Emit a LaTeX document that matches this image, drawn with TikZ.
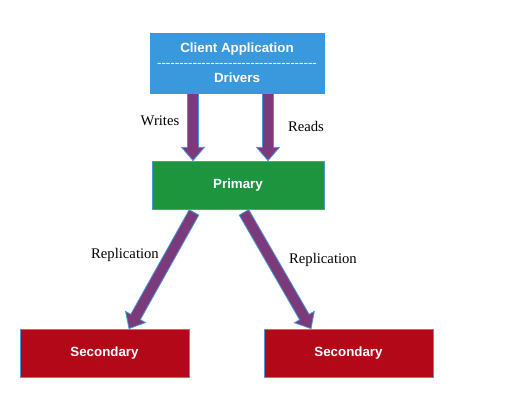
\documentclass[tikz,border=0pt]{standalone}
\usepackage{fontspec}
\setmainfont{Liberation Serif}
\newfontfamily\boxfont{Liberation Sans}
\usetikzlibrary{calc}

\definecolor{clientblue}{HTML}{3A99DC}
\definecolor{primgreen}{HTML}{1D953F}
\definecolor{secred}{HTML}{B30817}
\definecolor{edgeblue}{HTML}{4A96D8}
\definecolor{flowpurple}{HTML}{7B3A7A}

\tikzset{
  box/.style={draw=edgeblue, line width=0.6pt, text=white, font=\boxfont\bfseries\fontsize{10}{11.6}\selectfont, align=center},
  flow/.style={fill=flowpurple, draw=edgeblue, line width=0.6pt, line join=miter},
  lbl/.style={font=\fontsize{11}{13}\selectfont}
}

% block arrow from #1 to #2
\newcommand{\blockarrow}[2]{%
  \coordinate (hb) at ($(#2)!10pt!(#1)$);
  \filldraw[flow] ($(#1)!4.1pt!90:(#2)$) -- ($(hb)!4.1pt!90:(#2)$) -- ($(hb)!8.6pt!90:(#2)$) -- (#2)
    -- ($(hb)!8.6pt!-90:(#2)$) -- ($(hb)!4.1pt!-90:(#2)$) -- ($(#1)!4.1pt!-90:(#2)$) -- cycle;}

\begin{document}
\begin{tikzpicture}[x=0.75pt,y=-0.75pt]
  \useasboundingbox (0,0) rectangle (531,411);

  \node[name=client, box, fill=clientblue, draw=clientblue, minimum width=130.5pt, minimum height=45pt] at (237,63)
    {Client Application\\[-1pt]{\mdseries\foreach \i in {1,...,36}{-\kern0pt}}\\Drivers};
  \node[name=primary, box, fill=primgreen, minimum width=129pt, minimum height=36pt] at (238,185) {Primary};
  \node[name=sec1, box, fill=secred, minimum width=126.75pt, minimum height=36pt] at (104.5,353) {Secondary};
  \node[name=sec2, box, fill=secred, minimum width=126.75pt, minimum height=36pt] at (348.5,353) {Secondary};

  \coordinate (w0) at ([xshift=-33pt]client.south);
  \coordinate (w1) at (primary.north -| w0);
  \coordinate (r0) at ([xshift=23.25pt]client.south);
  \coordinate (r1) at (primary.north -| r0);
  \coordinate (p0) at ([xshift=-33pt,yshift=-2.25pt]primary.south);
  \coordinate (p1) at ([xshift=18.4pt]sec1.north);
  \coordinate (q0) at ([xshift=4.5pt,yshift=-2.25pt]primary.south);
  \coordinate (q1) at ([xshift=-28.1pt]sec2.north);

  \blockarrow{w0}{w1}
  \blockarrow{r0}{r1}
  \blockarrow{p0}{p1}
  \blockarrow{q0}{q1}

  \node[name=writes, lbl] at (160,121) {Writes};
  \node[name=reads, lbl] at (306,126) {Reads};
  \node[name=rep1, lbl] at (125,255) {Replication};
  \node[name=rep2, lbl] at (323,260) {Replication};
\end{tikzpicture}
\end{document}
